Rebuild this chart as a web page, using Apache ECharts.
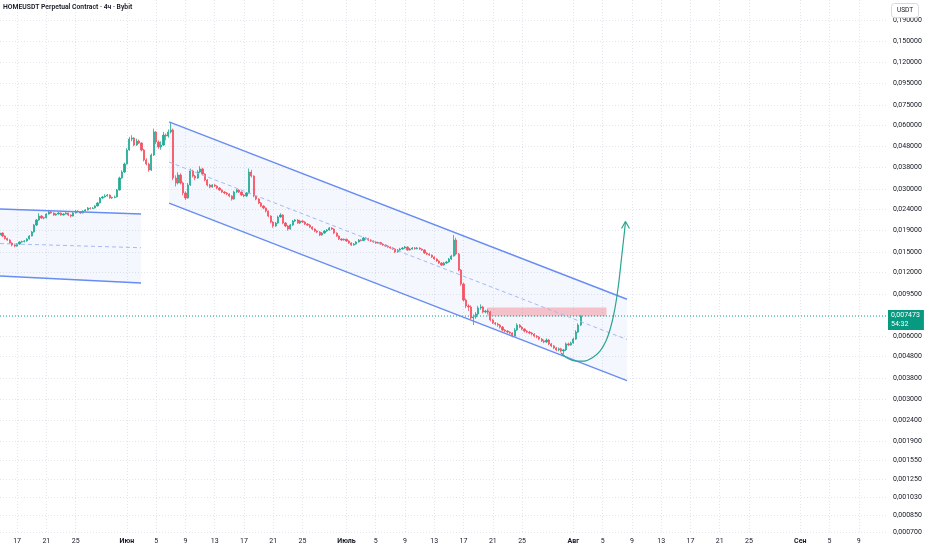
<!DOCTYPE html>
<html><head><meta charset="utf-8">
<script src="https://cdn.jsdelivr.net/npm/echarts@6/dist/echarts.min.js"></script>
<style>html,body{margin:0;padding:0;background:#fff}#c{width:932px;height:550px}</style>
</head><body><div id="c"></div>
<script>
const titleText = 'HOMEUSDT Perpetual Contract · 4ч · Bybit';
const currency = 'USDT';
const candleStart = '2025-05-14T16:00Z';
const candleStepHours = 8;
// [open, close, low, high]
const candles = [
[0.01815,0.01852,0.01790,0.01880],[0.01852,0.01792,0.01775,0.01865],[0.01792,0.01744,0.01725,0.01805],[0.01744,0.01716,0.01700,0.01760],[0.01716,0.01660,0.01645,0.01730],[0.01660,0.01624,0.01600,0.01675],
[0.01624,0.01606,0.01585,0.01640],[0.01606,0.01642,0.01595,0.01660],[0.01642,0.01679,0.01630,0.01695],[0.01679,0.01688,0.01665,0.01705],[0.01688,0.01697,0.01670,0.01715],[0.01697,0.01735,0.01685,0.01750],
[0.01735,0.01792,0.01725,0.01810],[0.01792,0.01873,0.01785,0.01895],[0.01873,0.02021,0.01860,0.02045],[0.02021,0.02135,0.02000,0.02160],[0.02135,0.02230,0.02120,0.02300],[0.02230,0.02182,0.02160,0.02250],
[0.02182,0.02190,0.02150,0.02215],[0.02190,0.02280,0.02175,0.02300],[0.02280,0.02331,0.02265,0.02360],[0.02331,0.02306,0.02290,0.02355],[0.02306,0.02255,0.02235,0.02320],[0.02255,0.02280,0.02240,0.02300],
[0.02280,0.02306,0.02265,0.02330],[0.02306,0.02255,0.02240,0.02320],[0.02255,0.02280,0.02245,0.02300],[0.02280,0.02306,0.02270,0.02330],[0.02306,0.02255,0.02230,0.02315],[0.02255,0.02230,0.02200,0.02270],
[0.02230,0.02306,0.02220,0.02325],[0.02306,0.02356,0.02295,0.02380],[0.02356,0.02340,0.02320,0.02375],[0.02340,0.02306,0.02285,0.02355],[0.02306,0.02356,0.02295,0.02375],[0.02356,0.02382,0.02340,0.02405],
[0.02382,0.02434,0.02370,0.02460],[0.02434,0.02420,0.02400,0.02455],[0.02420,0.02434,0.02405,0.02460],[0.02434,0.02489,0.02425,0.02510],[0.02489,0.02572,0.02475,0.02600],[0.02572,0.02716,0.02560,0.02745],
[0.02716,0.02747,0.02690,0.02780],[0.02747,0.02777,0.02730,0.02830],[0.02777,0.02807,0.02760,0.02840],[0.02807,0.02716,0.02700,0.02825],[0.02716,0.02730,0.02690,0.02760],[0.02730,0.02747,0.02710,0.02790],
[0.02747,0.02964,0.02735,0.03000],[0.02964,0.03380,0.02950,0.03430],[0.03380,0.03608,0.03350,0.03680],[0.03608,0.03939,0.03580,0.04000],[0.03939,0.04590,0.03920,0.04680],[0.04590,0.05176,0.04560,0.05300],
[0.05176,0.05233,0.05050,0.05400],[0.05233,0.04848,0.04780,0.05280],[0.04848,0.05065,0.04800,0.05200],[0.05065,0.04955,0.04900,0.05150],[0.04955,0.04590,0.04520,0.05000],[0.04590,0.04115,0.04050,0.04650],
[0.04115,0.03939,0.03880,0.04200],[0.03939,0.03689,0.03620,0.04000],[0.03689,0.04346,0.03650,0.04420],[0.04346,0.05590,0.04300,0.05800],[0.05590,0.05009,0.04900,0.05650],[0.05009,0.04742,0.04650,0.05100],
[0.04742,0.04848,0.04600,0.05050],[0.04848,0.05408,0.04800,0.05600],[0.05408,0.05349,0.05100,0.05500],[0.05349,0.05590,0.05250,0.05750],[0.05590,0.05712,0.05500,0.06200],[0.05712,0.03380,0.03300,0.05800],
[0.03380,0.03200,0.03080,0.03480],[0.03200,0.03493,0.03150,0.03600],[0.03493,0.03200,0.03150,0.03560],[0.03200,0.02869,0.02800,0.03250],[0.02869,0.02716,0.02660,0.02920],[0.02716,0.03131,0.02700,0.03200],
[0.03131,0.03649,0.03100,0.03750],[0.03649,0.03455,0.03400,0.03700],[0.03455,0.03380,0.03300,0.03500],[0.03380,0.03609,0.03350,0.03680],[0.03609,0.03730,0.03560,0.03850],[0.03730,0.03531,0.03480,0.03780],
[0.03531,0.03307,0.03260,0.03560],[0.03307,0.03131,0.03080,0.03340],[0.03131,0.03063,0.03020,0.03170],[0.03063,0.03131,0.03040,0.03160],[0.03131,0.03097,0.03060,0.03160],[0.03097,0.03030,0.02990,0.03120],
[0.03030,0.02964,0.02930,0.03060],[0.02964,0.02900,0.02870,0.02990],[0.02900,0.02869,0.02830,0.02930],[0.02869,0.02838,0.02800,0.02900],[0.02838,0.02777,0.02740,0.02860],[0.02777,0.02686,0.02640,0.02800],
[0.02686,0.02900,0.02670,0.02940],[0.02900,0.02964,0.02870,0.03000],[0.02964,0.02900,0.02870,0.02990],[0.02900,0.02807,0.02780,0.02920],[0.02807,0.02777,0.02740,0.02840],[0.02777,0.02869,0.02750,0.02900],
[0.02869,0.03609,0.02850,0.03750],[0.03609,0.03455,0.03400,0.03700],[0.03455,0.02777,0.02740,0.03480],[0.02777,0.02686,0.02650,0.02800],[0.02686,0.02572,0.02540,0.02710],[0.02572,0.02489,0.02460,0.02600],
[0.02489,0.02434,0.02400,0.02510],[0.02434,0.02356,0.02320,0.02450],[0.02356,0.02230,0.02200,0.02370],[0.02230,0.02089,0.02060,0.02250],[0.02089,0.01999,0.01960,0.02110],[0.01999,0.02066,0.01980,0.02090],
[0.02066,0.02206,0.02050,0.02240],[0.02206,0.02255,0.02190,0.02300],[0.02255,0.02066,0.02040,0.02275],[0.02066,0.01999,0.01975,0.02090],[0.01999,0.01935,0.01900,0.02020],[0.01935,0.02021,0.01920,0.02045],
[0.02021,0.02112,0.02000,0.02135],[0.02112,0.02135,0.02090,0.02160],[0.02135,0.02066,0.02050,0.02155],[0.02066,0.02112,0.02045,0.02140],[0.02112,0.02089,0.02070,0.02130],[0.02089,0.02043,0.02020,0.02110],
[0.02043,0.02021,0.02000,0.02065],[0.02021,0.01977,0.01955,0.02040],[0.01977,0.01935,0.01915,0.01995],[0.01935,0.01893,0.01870,0.01950],[0.01893,0.01873,0.01850,0.01910],[0.01873,0.01812,0.01790,0.01890],
[0.01812,0.01852,0.01800,0.01870],[0.01852,0.01893,0.01835,0.01915],[0.01893,0.01914,0.01875,0.01935],[0.01914,0.01956,0.01900,0.01980],[0.01956,0.01935,0.01915,0.01975],[0.01935,0.01852,0.01830,0.01950],
[0.01852,0.01792,0.01775,0.01865],[0.01792,0.01735,0.01715,0.01805],[0.01735,0.01716,0.01700,0.01750],[0.01716,0.01730,0.01705,0.01745],[0.01730,0.01697,0.01680,0.01740],[0.01697,0.01660,0.01645,0.01710],
[0.01660,0.01624,0.01610,0.01675],[0.01624,0.01642,0.01615,0.01660],[0.01642,0.01679,0.01630,0.01695],[0.01679,0.01716,0.01670,0.01735],[0.01716,0.01705,0.01690,0.01730],[0.01705,0.01754,0.01695,0.01775],
[0.01754,0.01740,0.01720,0.01770],[0.01740,0.01716,0.01700,0.01755],[0.01716,0.01697,0.01680,0.01730],[0.01697,0.01679,0.01665,0.01710],[0.01679,0.01660,0.01645,0.01690],[0.01660,0.01670,0.01650,0.01685],
[0.01670,0.01642,0.01630,0.01680],[0.01642,0.01624,0.01610,0.01655],[0.01624,0.01606,0.01590,0.01635],[0.01606,0.01589,0.01575,0.01620],[0.01589,0.01572,0.01560,0.01600],[0.01572,0.01555,0.01540,0.01585],
[0.01555,0.01505,0.01490,0.01570],[0.01505,0.01538,0.01495,0.01555],[0.01538,0.01555,0.01525,0.01575],[0.01555,0.01572,0.01545,0.01590],[0.01572,0.01589,0.01560,0.01610],[0.01589,0.01538,0.01525,0.01600],
[0.01538,0.01555,0.01530,0.01575],[0.01555,0.01572,0.01545,0.01590],[0.01572,0.01560,0.01545,0.01590],[0.01560,0.01572,0.01550,0.01590],[0.01572,0.01555,0.01540,0.01585],[0.01555,0.01538,0.01525,0.01565],
[0.01538,0.01488,0.01475,0.01550],[0.01488,0.01472,0.01455,0.01500],[0.01472,0.01456,0.01440,0.01485],[0.01456,0.01425,0.01410,0.01465],[0.01425,0.01394,0.01380,0.01435],[0.01394,0.01364,0.01350,0.01405],
[0.01364,0.01334,0.01320,0.01375],[0.01334,0.01305,0.01290,0.01345],[0.01305,0.01334,0.01295,0.01350],[0.01334,0.01349,0.01320,0.01365],[0.01349,0.01394,0.01340,0.01410],[0.01394,0.01440,0.01380,0.01460],
[0.01440,0.01716,0.01430,0.01812],[0.01716,0.01472,0.01450,0.01760],[0.01472,0.01236,0.01220,0.01490],[0.01236,0.01060,0.01040,0.01250],[0.01060,0.00890,0.00875,0.01075],[0.00890,0.00834,0.00815,0.00905],
[0.00834,0.00825,0.00790,0.00850],[0.00825,0.00732,0.00720,0.00840],[0.00732,0.00740,0.00677,0.00760],[0.00740,0.00764,0.00725,0.00780],[0.00764,0.00816,0.00755,0.00835],[0.00816,0.00825,0.00800,0.00850],
[0.00825,0.00781,0.00770,0.00835],[0.00781,0.00789,0.00770,0.00800],[0.00789,0.00781,0.00765,0.00805],[0.00781,0.00716,0.00705,0.00790],[0.00716,0.00693,0.00685,0.00725],[0.00693,0.00685,0.00675,0.00700],
[0.00685,0.00677,0.00665,0.00695],[0.00677,0.00662,0.00652,0.00685],[0.00662,0.00641,0.00632,0.00670],[0.00641,0.00634,0.00625,0.00648],[0.00634,0.00627,0.00618,0.00640],[0.00627,0.00620,0.00612,0.00632],
[0.00620,0.00600,0.00592,0.00626],[0.00600,0.00641,0.00595,0.00655],[0.00641,0.00677,0.00635,0.00690],[0.00677,0.00662,0.00655,0.00685],[0.00662,0.00648,0.00640,0.00670],[0.00648,0.00634,0.00625,0.00655],
[0.00634,0.00627,0.00620,0.00640],[0.00627,0.00620,0.00612,0.00635],[0.00620,0.00614,0.00605,0.00628],[0.00614,0.00600,0.00592,0.00620],[0.00600,0.00594,0.00586,0.00607],[0.00594,0.00581,0.00574,0.00600],
[0.00581,0.00569,0.00562,0.00588],[0.00569,0.00563,0.00555,0.00578],[0.00563,0.00575,0.00556,0.00585],[0.00575,0.00551,0.00544,0.00582],[0.00551,0.00539,0.00532,0.00557],[0.00539,0.00527,0.00520,0.00545],
[0.00527,0.00516,0.00509,0.00533],[0.00516,0.00522,0.00508,0.00530],[0.00522,0.00510,0.00502,0.00528],[0.00510,0.00516,0.00493,0.00522],[0.00516,0.00551,0.00510,0.00560],[0.00551,0.00545,0.00538,0.00560],
[0.00545,0.00557,0.00540,0.00565],[0.00557,0.00581,0.00552,0.00590],[0.00581,0.00627,0.00576,0.00640],[0.00627,0.00677,0.00620,0.00690],[0.00677,0.007473,0.00670,0.00755]
];
const priceTicks = [0.19,0.15,0.12,0.095,0.075,0.06,0.048,0.038,0.03,0.024,0.019,0.015,0.012,0.0095,0.006,0.0048,0.0038,0.003,0.0024,0.0019,0.00155,0.00125,0.00103,0.00085,0.0007];
const xTickDates = ['2025-05-17','2025-05-21','2025-05-25','2025-06-01','2025-06-05','2025-06-09','2025-06-13','2025-06-17','2025-06-21','2025-06-25','2025-07-01','2025-07-05','2025-07-09','2025-07-13','2025-07-17','2025-07-21','2025-07-25','2025-08-01','2025-08-05','2025-08-09','2025-08-13','2025-08-17','2025-08-21','2025-08-25','2025-09-01','2025-09-05','2025-09-09'];
const monthNames = {5:'Июн',6:'Июль',7:'Авг',8:'Сен'};
const xRange = ['2025-05-14T16:00Z','2025-09-12T17:15Z'];
const yRange = [0.000697, 0.2367];
const lastPrice = 0.007473;
const countdown = '54:32';
const oldChannelUpper = [['2025-05-14T16:00Z',0.02408],['2025-06-02T22:30Z',0.02280]];
const oldChannelMid   = [['2025-05-14T16:00Z',0.01651],['2025-06-02T22:30Z',0.01577]];
const oldChannelLower = [['2025-05-14T16:00Z',0.01157],['2025-06-02T22:30Z',0.01072]];
const channelUpper = [['2025-06-06T18:20Z',0.0625],['2025-08-08T08:00Z',0.00898]];
const channelMid   = [['2025-06-06T18:20Z',0.04025],['2025-08-08T08:00Z',0.005778]];
const channelLower = [['2025-06-06T18:20Z',0.02571],['2025-08-08T08:00Z',0.00369]];
const zoneTime = ['2025-07-20T05:00Z','2025-08-05T12:45Z'];
const zonePrice = [0.00745, 0.00820];
const projection = [['2025-07-30T07:40Z',0.004986],['2025-07-31T06:30Z',0.004695],['2025-08-01T08:50Z',0.004569],['2025-08-02T11:00Z',0.004569],['2025-08-03T13:10Z',0.004721],['2025-08-04T15:25Z',0.005097],['2025-08-05T11:00Z',0.005685],['2025-08-06T03:35Z',0.006701],['2025-08-06T16:35Z',0.008153],['2025-08-07T04:00Z',0.01049],['2025-08-07T14:00Z',0.01409],['2025-08-07T22:05Z',0.01792],['2025-08-08T03:05Z',0.0210]];
const arrowHead = [['2025-08-07T14:00Z',0.01947],['2025-08-08T03:05Z',0.0210],['2025-08-08T16:05Z',0.01947]];

const FONT = 'Roboto, "Noto Sans", sans-serif';
const T = s => Date.parse(s);
const pts = a => a.map(p => [T(p[0]), p[1]]);
const t0 = T(candleStart), step = candleStepHours * 3600 * 1000;
const candleData = candles.map((r, i) => [t0 + i * step, r[0], r[1], r[2], r[3]]);
const fmtPrice = v => Number(v).toFixed(6).replace('.', ',');

function polygon(verts, fill, z) {
  return { type: 'custom', data: verts, encode: { x: 0, y: 1 }, z, silent: true,
    renderItem: (params, api) => params.dataIndex !== 0 ? null :
      ({ type: 'polygon', shape: { points: verts.map(v => api.coord(v)) }, style: { fill } }) };
}
function seg(data, color, width, type, z) {
  return { type: 'line', data, showSymbol: false, silent: true, z, lineStyle: { color, width, type } };
}
const CH = '#678cf3', CHM = '#a3baf6', FILL = 'rgba(72,108,240,0.055)';
const oU = pts(oldChannelUpper), oM = pts(oldChannelMid), oL = pts(oldChannelLower);
const mU = pts(channelUpper), mM = pts(channelMid), mL = pts(channelLower);
const zt = zoneTime.map(T);

const chart = echarts.init(document.getElementById('c'), null, { renderer: 'canvas' });
chart.setOption({
  animation: false,
  backgroundColor: '#ffffff',
  textStyle: { fontFamily: FONT },
  title: [
    { text: titleText, left: 3, top: 4, padding: 0, textStyle: { fontSize: 6.8, fontWeight: 600, color: '#131722', fontFamily: FONT } },
    { text: currency, left: 891, top: 3, padding: [4, 6], borderColor: '#d6d9e0', borderWidth: 1, borderRadius: 3, backgroundColor: '#ffffff', zlevel: 1,
      textStyle: { fontSize: 6.5, fontWeight: 'normal', color: '#131722', fontFamily: FONT } }
  ],
  grid: { left: 0, right: 46, top: 0, bottom: 17, containLabel: false },
  xAxis: {
    type: 'value', min: T(xRange[0]), max: T(xRange[1]), scale: true,
    axisLine: { show: false }, axisTick: { show: false, customValues: xTickDates.map(T) },
    splitLine: { show: true, lineStyle: { color: '#e3e6ec', type: [1, 2], width: 1 } },
    axisLabel: {
      customValues: xTickDates.map(T), margin: 5, fontSize: 7, color: '#131722', fontFamily: FONT, hideOverlap: false,
      formatter: v => { const d = new Date(v); const day = d.getUTCDate(); return day === 1 ? '{b|' + monthNames[d.getUTCMonth()] + '}' : String(day); },
      rich: { b: { fontWeight: 'bold', fontSize: 7, color: '#131722', fontFamily: FONT } }
    }
  },
  yAxis: {
    type: 'log', logBase: 10, position: 'right', min: yRange[0], max: yRange[1],
    axisLine: { show: false }, axisTick: { show: false, customValues: priceTicks },
    splitLine: { show: true, lineStyle: { color: '#e3e6ec', type: [1, 2], width: 1 } },
    axisLabel: { customValues: priceTicks, margin: 7, fontSize: 7, color: '#131722', fontFamily: FONT, formatter: fmtPrice, hideOverlap: false }
  },
  series: [
    polygon([oU[0], oU[1], oL[1], oL[0]], FILL, 1),
    polygon([mU[0], mU[1], mL[1], mL[0]], FILL, 1),
    polygon([[zt[0], zonePrice[1]], [zt[1], zonePrice[1]], [zt[1], zonePrice[0]], [zt[0], zonePrice[0]]], 'rgba(242,54,69,0.28)', 2),
    {
      type: 'line', data: [[T(xRange[0]), lastPrice], [T(xRange[1]), lastPrice]], showSymbol: false, silent: true, z: 2, clip: false,
      lineStyle: { color: '#089981', type: [1, 2], width: 1 },
      endLabel: { show: true, distance: 2, offset: [0, 4], formatter: () => fmtPrice(lastPrice) + '\n' + countdown,
        backgroundColor: '#089981', color: '#ffffff', fontSize: 7, lineHeight: 9, padding: [1, 4, 1, 3], fontFamily: FONT }
    },
    {
      type: 'candlestick', data: candleData, encode: { x: 0, y: [1, 2, 3, 4] }, barWidth: 1.7, z: 3, silent: true,
      itemStyle: { color: '#22ab94', color0: '#f7525f', borderColor: '#22ab94', borderColor0: '#f7525f', borderWidth: 0.8 }
    },
    seg(oU, CH, 1.4, 'solid', 4), seg(oL, CH, 1.4, 'solid', 4), seg(oM, CHM, 1, [4, 3], 4),
    seg(mU, CH, 1.4, 'solid', 4), seg(mL, CH, 1.4, 'solid', 4), seg(mM, CHM, 1, [4, 3], 4),
    { type: 'line', data: pts(projection), smooth: 0.35, showSymbol: false, silent: true, z: 5, lineStyle: { color: '#2aa58f', width: 1.2 } },
    seg(pts(arrowHead), '#2aa58f', 1.2, 'solid', 5)
  ]
});
</script></body></html>
